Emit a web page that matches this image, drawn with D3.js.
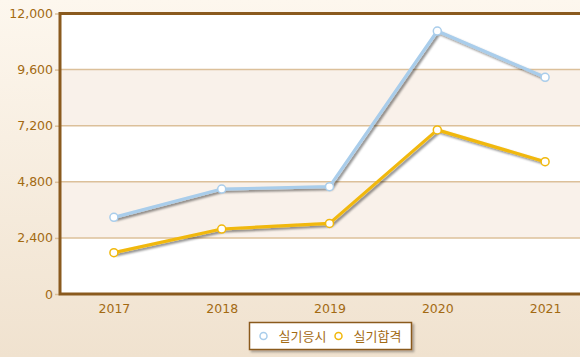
<!DOCTYPE html>
<html><head><meta charset="utf-8">
<script src="https://cdn.jsdelivr.net/npm/d3@7/dist/d3.min.js"></script>
<style>html,body{margin:0;padding:0;overflow:hidden;}svg{display:block;}</style>
</head><body>
<svg id="c" width="580" height="357"></svg>
<script>
const years = ["2017","2018","2019","2020","2021"];
const applicants = [3280, 4490, 4590, 11250, 9270];
const passed = [1770, 2780, 3020, 7020, 5660];
const seriesNames = ["실기응시","실기합격"];
const yTicks = [0, 2400, 4800, 7200, 9600, 12000];

const W=580,H=357;
const m={l:60,t:13.5,b:294,r:599};
const svg=d3.select("#c");
const defs=svg.append("defs");
const bg=defs.append("linearGradient").attr("id","bg").attr("x1",0).attr("y1",0).attr("x2",0).attr("y2",1);
bg.append("stop").attr("offset","0%").attr("stop-color","#fdf7ee");
bg.append("stop").attr("offset","100%").attr("stop-color","#f0e2cf");
const f=defs.append("filter").attr("id","sh").attr("x","-10%").attr("y","-10%").attr("width","130%").attr("height","140%");
f.append("feDropShadow").attr("dx",2).attr("dy",2).attr("stdDeviation",1.2).attr("flood-color","#000").attr("flood-opacity",0.45);
const f2=defs.append("filter").attr("id","sh2").attr("x","-10%").attr("y","-20%").attr("width","130%").attr("height","160%");
f2.append("feDropShadow").attr("dx",2).attr("dy",2).attr("stdDeviation",1.2).attr("flood-color","#000").attr("flood-opacity",0.3);

svg.append("rect").attr("width",W).attr("height",H).attr("fill","url(#bg)");

const x=d3.scalePoint().domain(years).range([m.l,m.r]).padding(0.5);
const y=d3.scaleLinear().domain([0,12000]).range([m.b,m.t]);

svg.append("rect").attr("x",m.l).attr("y",m.t).attr("width",m.r-m.l).attr("height",m.b-m.t).attr("fill","#fff");
for(let i=0;i<yTicks.length-1;i++){
  if(i%2===1){
    svg.append("rect").attr("x",m.l).attr("y",y(yTicks[i+1])).attr("width",m.r-m.l)
      .attr("height",y(yTicks[i])-y(yTicks[i+1])).attr("fill","#f9f1ea");
  }
}
svg.append("g").selectAll("line").data(yTicks.slice(1,-1)).join("line")
  .attr("x1",m.l).attr("x2",m.r).attr("y1",d=>y(d)).attr("y2",d=>y(d))
  .attr("stroke","#dcc09a").attr("stroke-width",1.5);

const font="'DejaVu Sans','Noto Sans CJK KR',sans-serif";
const tc="#a36a12";
const ya=svg.append("g").attr("transform",`translate(${m.l},0)`)
  .call(d3.axisLeft(y).tickValues(yTicks).tickSize(5).tickPadding(2).tickFormat(d3.format(",")));
ya.select(".domain").remove();
ya.selectAll("line").attr("stroke","#dcc09a").attr("stroke-width",1.5);
ya.selectAll("text").attr("fill",tc).attr("font-size",12.5).attr("font-family",font);
const xa=svg.append("g").attr("transform",`translate(0,${m.b})`)
  .call(d3.axisBottom(x).tickSize(0).tickPadding(10));
xa.select(".domain").remove();
xa.selectAll("text").attr("fill",tc).attr("font-size",12.5).attr("font-family",font);

svg.append("path").attr("d",`M${m.r},${m.t}H${m.l}V${m.b}H${m.r}`)
  .attr("fill","none").attr("stroke","#8a5a1e").attr("stroke-width",3);

const series=[{name:seriesNames[0],vals:applicants,color:"#a9cdeb"},
              {name:seriesNames[1],vals:passed,color:"#f1b80c"}];
const line=d3.line().x((d,i)=>x(years[i])).y(d=>y(d));
series.forEach(s=>{
  svg.append("path").attr("d",line(s.vals)).attr("fill","none").attr("stroke",s.color)
    .attr("stroke-width",3.2).attr("stroke-linejoin","round").attr("filter","url(#sh)");
});
series.forEach(s=>{
  svg.append("g").selectAll("circle").data(s.vals).join("circle")
    .attr("cx",(d,i)=>x(years[i])).attr("cy",d=>y(d)).attr("r",4)
    .attr("fill","#fff").attr("stroke",s.color).attr("stroke-width",1.5);
});

const lg=svg.append("g");
lg.append("rect").attr("x",249.5).attr("y",322.5).attr("width",162).attr("height",27)
  .attr("fill","#fff").attr("stroke","#8a5a1e").attr("stroke-width",1.5).attr("filter","url(#sh2)");
const lx=[263.5,338.5];
series.forEach((s,i)=>{
  lg.append("circle").attr("cx",lx[i]).attr("cy",336).attr("r",3.5).attr("fill","#fff")
    .attr("stroke",s.color).attr("stroke-width",1.5);
  lg.append("text").attr("x",lx[i]+15).attr("y",341).attr("fill",tc).attr("font-size",13)
    .attr("font-family",font).text(s.name);
});
</script>
</body></html>
